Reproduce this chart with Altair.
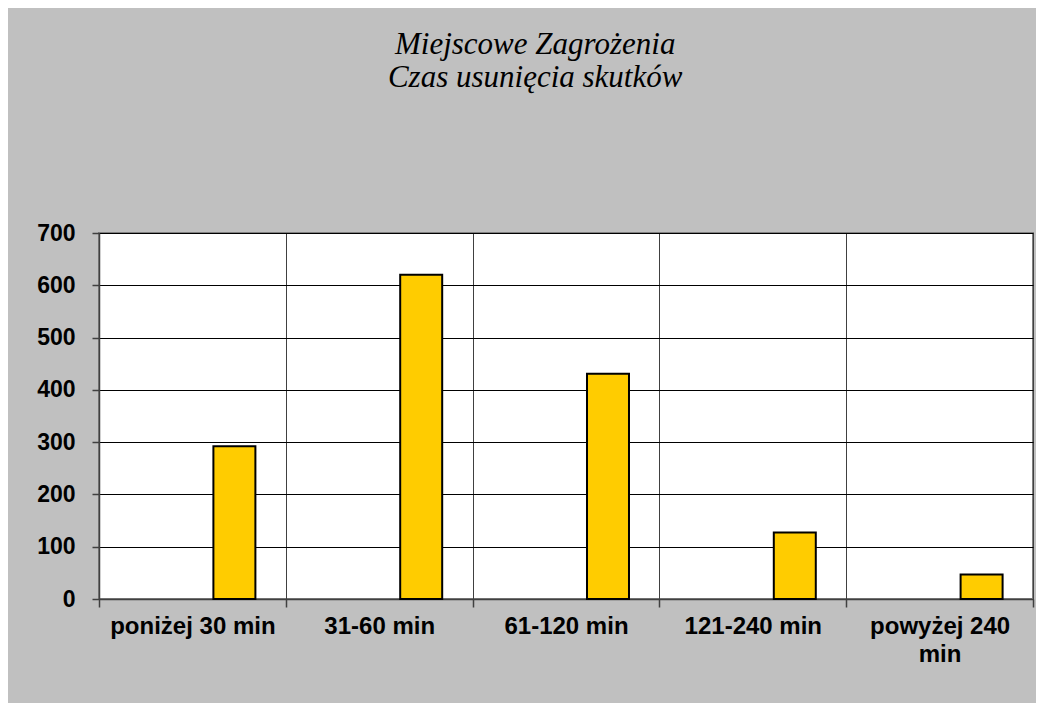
import altair as alt
import pandas as pd

# --- data ---
categories = ["poniżej 30 min", "31-60 min", "61-120 min", "121-240 min", "powyżej 240 min"]
values = [292, 620, 431, 127, 47]
series_slots = ["seria 1", "seria 2", "seria 3"]   # Excel cluster: only the 3rd series has data
series = ["seria 3"] * len(categories)
y_ticks = [0, 100, 200, 300, 400, 500, 600, 700]
title_lines = ["Miejscowe Zagrożenia", "Czas usunięcia skutków"]

df = pd.DataFrame({"kategoria": categories, "wartosc": values, "seria": series})

label_expr = "datum.label == 'powyżej 240 min' ? ['powyżej 240', 'min'] : datum.label"

bars = alt.Chart(df).mark_bar(
    color="#FFCC00", stroke="#000000", strokeWidth=2
).encode(
    x=alt.X(
        "kategoria:N", sort=categories, title=None,
        scale=alt.Scale(paddingInner=0, paddingOuter=0),
        axis=alt.Axis(
            tickBand="extent", grid=True, gridColor="#404040", gridWidth=1,
            labelAngle=0, labelFont="Liberation Sans", labelFontWeight="bold",
            labelFontSize=24, labelColor="#000000", labelPadding=7,
            labelLineHeight=28, labelBaseline="top", labelExpr=label_expr,
            labelOverlap=False, labelLimit=400,
            tickSize=8, tickColor="#404040", tickWidth=1.5,
            domainColor="#404040", domainWidth=1.5,
        ),
    ),
    xOffset=alt.XOffset(
        "seria:N",
        scale=alt.Scale(domain=series_slots, paddingInner=0, paddingOuter=0.724),
    ),
    y=alt.Y(
        "wartosc:Q", title=None,
        scale=alt.Scale(domain=[0, 700], nice=False),
        axis=alt.Axis(
            values=y_ticks, grid=True, gridColor="#000000", gridWidth=1,
            labelFont="Liberation Sans", labelFontWeight="bold", labelFontSize=23,
            labelColor="#000000", labelPadding=17,
            tickSize=7, tickColor="#404040", tickWidth=1.5,
            domainColor="#404040", domainWidth=1.5,
        ),
    ),
)

chart = bars.properties(
    width=934,
    height=366,
    title=alt.TitleParams(
        title_lines, font="Liberation Serif", fontStyle="italic", fontWeight="normal",
        fontSize=31, lineHeight=33, color="#000000", anchor="middle", frame="bounds",
        offset=128,
    ),
    background="#C0C0C0",
    padding={"left": 91, "top": 225, "right": 3, "bottom": 104},
    autosize=alt.AutoSizeParams(type="none"),
).configure_view(fill="white", stroke="#808080", strokeWidth=2)

chart.save("out.html", embed_options={"renderer": "svg", "actions": False})
